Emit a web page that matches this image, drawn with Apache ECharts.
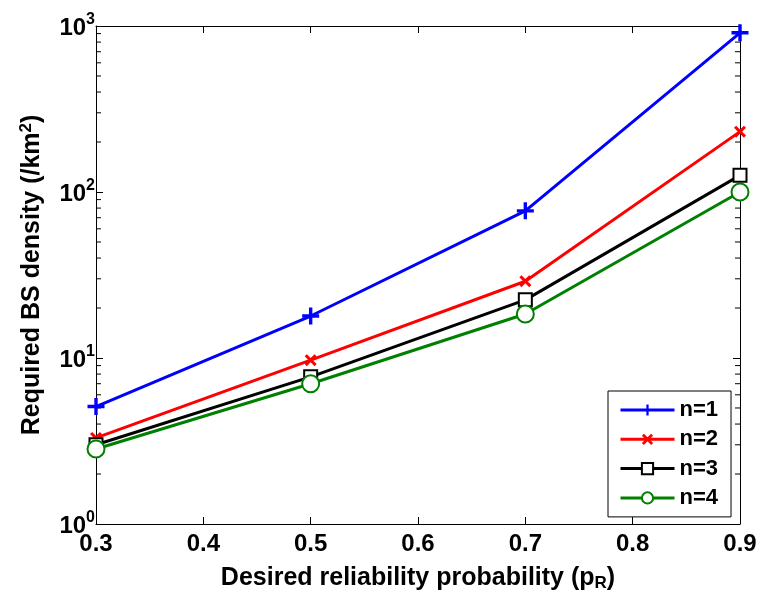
<!DOCTYPE html>
<html><head><meta charset="utf-8">
<script src="https://cdn.jsdelivr.net/npm/echarts@6/dist/echarts.min.js"></script>
<style>html,body{margin:0;padding:0;background:#fff}#c{width:761px;height:595px}</style>
</head><body><div id="c"></div>
<script>
var xValues = [0.3, 0.5, 0.7, 0.9];
var seriesNames = ['n=1', 'n=2', 'n=3', 'n=4'];
var n1 = [5.1, 17.9, 77, 910];
var n2 = [3.3, 9.7, 29, 231];
var n3 = [3.0, 7.7, 22.4, 126];
var n4 = [2.83, 7.0, 18.4, 100];
var xTicks = [0.3, 0.4, 0.5, 0.6, 0.7, 0.8, 0.9];
var yMinorTicks = [2,3,4,5,6,7,8,9,20,30,40,50,60,70,80,90,200,300,400,500,600,700,800,900];

var FONT = '"Liberation Sans", Arial, sans-serif';
var chart = echarts.init(document.getElementById('c'));

function pairs(ys){ return xValues.map(function(x,i){ return [x, ys[i]]; }); }

var plusPath = 'path://M8,0H12V8H20V12H12V20H8V12H0V8H8Z';
var crossPath = 'path://M0,3.54L3.54,0L10,6.46L16.46,0L20,3.54L13.54,10L20,16.46L16.46,20L10,13.54L3.54,20L0,16.46L6.46,10Z';

var lineCfg = [
  {data:n1, color:'#0000ff', symbol:plusPath, size:17},
  {data:n2, color:'#ff0000', symbol:crossPath, size:12},
  {data:n3, color:'#000000', symbol:'emptyRect', size:13},
  {data:n4, color:'#008000', symbol:'emptyCircle', size:17}
];

var series = lineCfg.map(function(c, i){
  return {
    type:'line', name:seriesNames[i], data:pairs(c.data),
    xAxisIndex:0, yAxisIndex:0,
    symbol:c.symbol, symbolSize:c.size, showAllSymbol:true,
    lineStyle:{color:c.color, width:3},
    itemStyle:{color:c.color, borderColor:c.color, borderWidth: (c.symbol.indexOf('empty')===0?3:0)},
    emphasis:{disabled:true}, animation:false, z:5
  };
});

series.push({
  type:'custom', name:'minor', xAxisIndex:0, yAxisIndex:0,
  data: yMinorTicks.map(function(v){ return [xTicks[0], v]; }),
  clip:false, silent:true, animation:false, z:3,
  renderItem:function(params, api){
    var v = api.value(1);
    var pL = api.coord([xTicks[0], v]);
    var pR = api.coord([xTicks[xTicks.length-1], v]);
    var st = {stroke:'#000', lineWidth:1};
    return {type:'group', children:[
      {type:'line', shape:{x1:pL[0], y1:pL[1], x2:pL[0]+5, y2:pL[1]}, style:st},
      {type:'line', shape:{x1:pR[0]-5, y1:pR[1], x2:pR[0], y2:pR[1]}, style:st}
    ]};
  }
});

chart.setOption({
  backgroundColor:'#fff',
  animation:false,
  grid:{left:96, right:21, top:26, bottom:71, containLabel:false, outerBoundsMode:'none'},
  legend:{
    data:seriesNames, orient:'vertical', left:608, top:391,
    padding:[8,13,8,11], itemGap:7.3, itemWidth:54, itemHeight:14,
    borderColor:'#000', borderWidth:1, backgroundColor:'#fff',
    lineStyle:{width:3},
    textStyle:{fontFamily:FONT, fontWeight:'bold', fontSize:22, lineHeight:22, color:'#000', padding:[0,0,0,0]},
    selectedMode:false, z:10
  },
  xAxis:[{
    type:'value', min:0.3, max:0.9, interval:0.1, position:'bottom',
    axisLine:{show:true, onZero:false, lineStyle:{color:'#000', width:1}},
    axisTick:{show:true, inside:true, length:7, lineStyle:{color:'#000'}},
    splitLine:{show:false},
    axisLabel:{fontFamily:FONT, fontWeight:'bold', fontSize:24, color:'#000', margin:8,
      formatter:function(v){ return v.toFixed(1); }},
    name:'Desired reliability probability (p{sub|R})',
    nameLocation:'middle', nameGap:41,
    nameTextStyle:{fontFamily:FONT, fontWeight:'bold', fontSize:25, color:'#000',
      rich:{sub:{fontFamily:FONT, fontWeight:'bold', fontSize:17, color:'#000', verticalAlign:'bottom', padding:[10,0,0,0]}}}
  },{
    type:'value', min:0.3, max:0.9, interval:0.1, position:'top',
    axisLine:{show:true, onZero:false, lineStyle:{color:'#000', width:1}},
    axisTick:{show:true, inside:true, length:7, lineStyle:{color:'#000'}},
    axisLabel:{show:false}, splitLine:{show:false}
  }],
  yAxis:[{
    type:'log', logBase:10, min:1, max:1000, position:'left',
    axisLine:{show:true, onZero:false, lineStyle:{color:'#000', width:1}},
    axisTick:{show:true, inside:true, length:7, lineStyle:{color:'#000'}},
    splitLine:{show:false}, minorTick:{show:false},
    axisLabel:{fontFamily:FONT, fontWeight:'bold', fontSize:24, color:'#000', margin:1,
      formatter:function(v){ return '{b|10}{s|' + Math.round(Math.log10(v)) + '}'; },
      rich:{
        b:{fontFamily:FONT, fontWeight:'bold', fontSize:24, color:'#000', lineHeight:28, verticalAlign:'bottom'},
        s:{fontFamily:FONT, fontWeight:'bold', fontSize:16, color:'#000', lineHeight:28, verticalAlign:'top', padding:[0,0,14,0]}
      }},
    name:'Required BS density (/km{sup|2})',
    nameLocation:'middle', nameGap:49, nameRotate:90,
    nameTextStyle:{fontFamily:FONT, fontWeight:'bold', fontSize:25, color:'#000',
      rich:{sup:{fontFamily:FONT, fontWeight:'bold', fontSize:17, color:'#000', verticalAlign:'top', padding:[0,0,12,0]}}}
  },{
    type:'log', logBase:10, min:1, max:1000, position:'right',
    axisLine:{show:true, onZero:false, lineStyle:{color:'#000', width:1}},
    axisTick:{show:true, inside:true, length:7, lineStyle:{color:'#000'}},
    axisLabel:{show:false}, splitLine:{show:false}
  }],
  series:series
});
</script></body></html>
